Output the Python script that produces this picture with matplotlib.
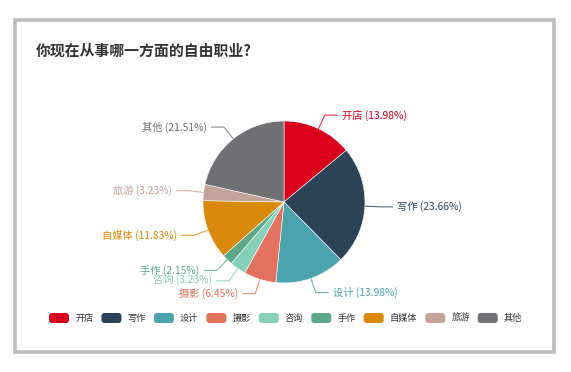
import numpy as np
import matplotlib
matplotlib.use("Agg")
import matplotlib.pyplot as plt
from matplotlib.patches import Rectangle, FancyBboxPatch

plt.rcParams['font.family'] = ['Noto Sans CJK SC', 'DejaVu Sans']

title = "你现在从事哪一方面的自由职业?"
categories = ["开店", "写作", "设计", "摄影", "咨询", "手作", "自媒体", "旅游", "其他"]
percents = [13.98, 23.66, 13.98, 6.45, 3.23, 2.15, 11.83, 3.23, 21.51]
colors = ["#d8001c", "#2c4357", "#4aa3ad", "#e3735f", "#86d0b9",
          "#5fa98a", "#da8a0b", "#c4a39a", "#6f6f74"]

W, H = 571, 372
fig = plt.figure(figsize=(W / 100, H / 100), dpi=100)
fig.patch.set_facecolor("white")
ax = fig.add_axes([0, 0, 1, 1])
ax.set_xlim(0, W)
ax.set_ylim(0, H)
ax.axis("off")

def Y(y):
    return H - y

# border card
ax.add_patch(Rectangle((15, Y(352)), 539, 332, fill=False,
                       edgecolor="#bcbcbc", linewidth=2.6))

# title
ax.text(36, Y(51), title, fontsize=10.7, fontweight="bold", color="#333333",
        ha="left", va="center")

# pie
cx, cy, R = 284, 202, 81
wedges, _ = ax.pie(percents, colors=colors, startangle=90, counterclock=False,
                   center=(cx, Y(cy)), radius=R, frame=True,
                   wedgeprops=dict(edgecolor="white", linewidth=0.4))
ax.set_xlim(0, W)
ax.set_ylim(0, H)
ax.axis("off")

for w, cat, p, c in zip(wedges, categories, percents, colors):
    mid = np.deg2rad((w.theta1 + w.theta2) / 2)
    x0, y0 = cx + R * np.cos(mid), Y(cy) + R * np.sin(mid)
    x1, y1 = cx + (R + 15) * np.cos(mid), Y(cy) + (R + 15) * np.sin(mid)
    side = 1 if np.cos(mid) >= 0 else -1
    x2 = x1 + side * 13
    ax.plot([x0, x1, x2], [y0, y1, y1], color=c, linewidth=0.8, alpha=0.8,
            solid_capstyle="butt")
    ax.text(x2 + side * 4, y1, f"{cat} ({p:.2f}%)", color=c, fontsize=7.4,
            ha="left" if side > 0 else "right", va="center")

# legend
fig.canvas.draw()
renderer = fig.canvas.get_renderer()
lx, ly = 49, Y(318)
for cat, c in zip(categories, colors):
    ax.add_patch(FancyBboxPatch((lx, ly - 5), 20, 10,
                                boxstyle="round,pad=0,rounding_size=3",
                                facecolor=c, edgecolor="none"))
    t = ax.text(lx + 26, ly, cat, fontsize=6.6, color="#333333",
                ha="left", va="center")
    bb = t.get_window_extent(renderer=renderer)
    lx = lx + 26 + bb.width + 8.2

fig.savefig("out.png", dpi=100, facecolor="white")
